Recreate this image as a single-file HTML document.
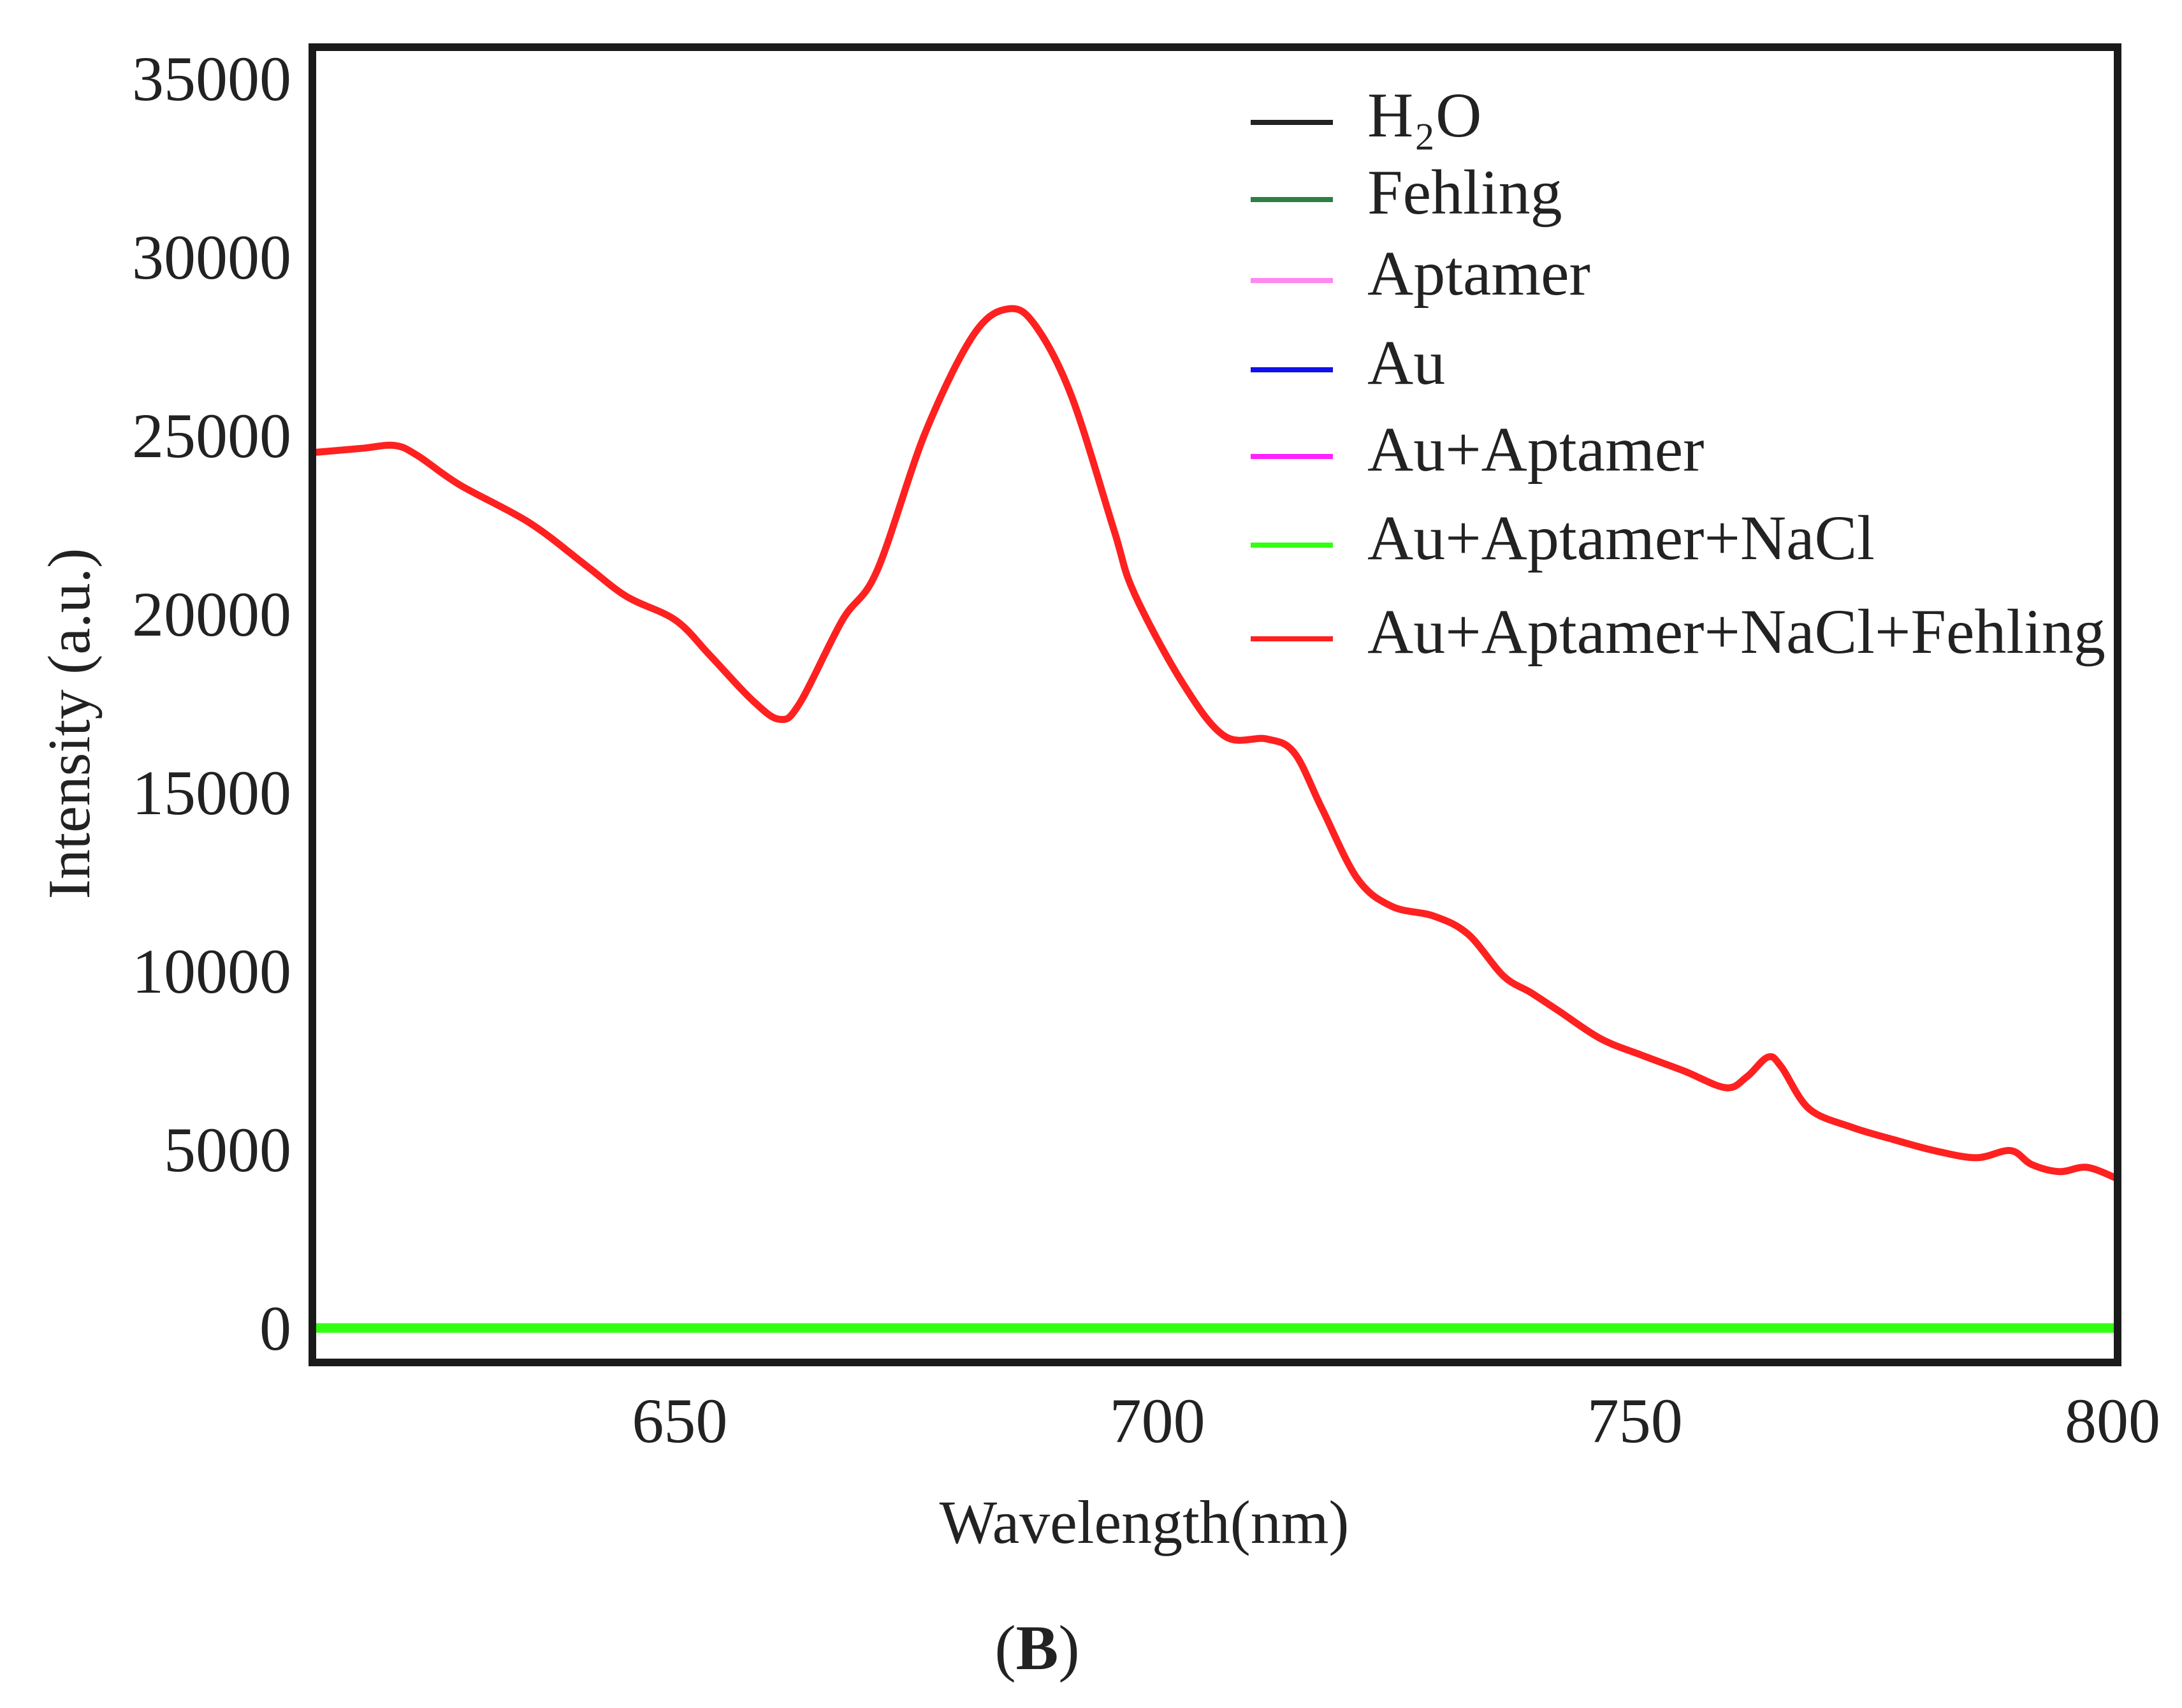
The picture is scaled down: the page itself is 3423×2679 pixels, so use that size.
<!DOCTYPE html>
<html><head><meta charset="utf-8"><style>
html,body{margin:0;padding:0;background:#fff;}
svg{display:block;}
text{font-family:"Liberation Serif",serif;fill:#222;}
</style></head><body>
<svg id="chart" width="3423" height="2679" viewBox="0 0 3423 2679" xmlns="http://www.w3.org/2000/svg">
<g id="series"></g>
<rect x="490" y="74" width="2832" height="2063" fill="none" stroke="#1a1a1a" stroke-width="12"/>
<g id="yticks"></g>
<g id="xticks"></g>
<text transform="translate(140,1135) rotate(-90)" text-anchor="middle" font-size="94">Intensity (a.u.)</text>
<text x="1795" y="2420" text-anchor="middle" font-size="96">Wavelength(nm)</text>
<text x="1627" y="2618" text-anchor="middle" font-size="100">(<tspan font-weight="bold">B</tspan>)</text>
<g id="legend"></g>
</svg>
<script>
const wavelengths=[611,616.2,619.6,622,626.4,633.7,639.5,643.9,649,652.6,657,659.9,662,666.5,670.1,675.2,680.3,684,686.8,690.5,694.9,697,702.1,706.5,710.9,713.8,716.7,720.4,724,728.4,732,735.7,738.6,741.5,745.9,750.3,754.6,759,761.2,763.4,764.8,767.7,772.1,776.5,780.8,785.2,788.8,791,793.9,796.8,800];
const redValues=[24520,24640,24720,24440,23620,22560,21390,20490,19830,18850,17600,17050,17490,19830,21200,25100,27850,28550,28040,26090,22370,20610,18070,16580,16500,16110,14550,12590,11810,11540,11030,9860,9390,8880,8100,7630,7200,6730,7040,7590,7310,6140,5630,5280,4970,4770,4970,4580,4380,4500,4180];
const flatWavelengths=[611,800];
const flatValues=[0,0];
const yTicks=[0,5000,10000,15000,20000,25000,30000,35000];
const yTickLabels=["0","5000","10000","15000","20000","25000","30000","35000"];
const xTicks=[650,700,750,800];
const xTickLabels=["650","700","750","800"];
const seriesNames=["H\u2082O","Fehling","Aptamer","Au","Au+Aptamer","Au+Aptamer+NaCl","Au+Aptamer+NaCl+Fehling"];
const seriesColors=["#222222","#2e7d46","#ff88ee","#1010ee","#ff22ff","#33ff11","#ff2020"];

const NS="http://www.w3.org/2000/svg";
function xs(w){return 490+(w-611)*(3322-490)/(800-611);}
function ys(v){return 2083-v*0.056;}
function mk(tag,attrs,parent){const e=document.createElementNS(NS,tag);for(const k in attrs)e.setAttribute(k,attrs[k]);parent.appendChild(e);return e;}
function smoothPath(px,py){
  let d="M"+px[0].toFixed(1)+","+py[0].toFixed(1);
  for(let i=0;i<px.length-1;i++){
    const x0=px[Math.max(i-1,0)],y0=py[Math.max(i-1,0)];
    const x1=px[i],y1=py[i],x2=px[i+1],y2=py[i+1];
    const x3=px[Math.min(i+2,px.length-1)],y3=py[Math.min(i+2,px.length-1)];
    const c1x=x1+(x2-x0)/6,c1y=y1+(y2-y0)/6,c2x=x2-(x3-x1)/6,c2y=y2-(y3-y1)/6;
    d+=" C"+c1x.toFixed(1)+","+c1y.toFixed(1)+" "+c2x.toFixed(1)+","+c2y.toFixed(1)+" "+x2.toFixed(1)+","+y2.toFixed(1);
  }
  return d;
}
const sg=document.getElementById('series');
for(let s=0;s<6;s++){
  const p=mk('path',{d:smoothPath(flatWavelengths.map(xs),flatValues.map(ys)),fill:'none',stroke:seriesColors[s],'stroke-width':s==5?15:8},sg);
  
  
}
const red=mk('path',{d:smoothPath(wavelengths.map(xs),redValues.map(ys)),fill:'none',stroke:seriesColors[6],'stroke-width':11,'stroke-linejoin':'round'},sg);



const yg=document.getElementById('yticks');
yTicks.forEach((v,i)=>{
  const t=mk('text',{x:457,y:ys(v)+34,'text-anchor':'end','font-size':100},yg);
  t.textContent=yTickLabels[i];
  
  
});
const xg=document.getElementById('xticks');
xTicks.forEach((v,i)=>{
  const t=mk('text',{x:xs(v)-8,y:2262,'text-anchor':'middle','font-size':100},xg);
  t.textContent=xTickLabels[i];
  
  
});
const lg=document.getElementById('legend');
const rowY=[182,303,430,570,706,845,992];
seriesNames.forEach((n,i)=>{
  const l=mk('line',{x1:1962,x2:2091,y1:rowY[i]+10,y2:rowY[i]+10,stroke:seriesColors[i],'stroke-width':8},lg);
  
  
  const t=mk('text',{x:2145,y:rowY[i]+32,'font-size':100},lg);
  t.textContent=n;
  
  
});
</script>
</body></html>
